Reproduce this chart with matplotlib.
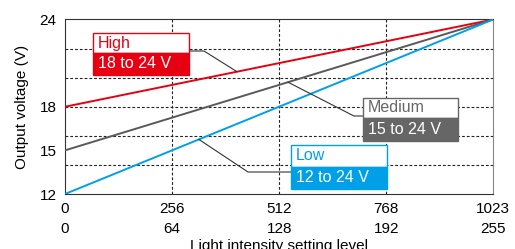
import numpy as np
import matplotlib
matplotlib.use("Agg")
import matplotlib.pyplot as plt
from matplotlib.patches import Rectangle

plt.rcParams['font.family'] = ['Liberation Sans', 'DejaVu Sans']

# data
levels = [0, 1023]
high_v = [18, 24]
medium_v = [15, 24]
low_v = [12, 24]

xticks = [0, 256, 512, 768, 1023]
xtick_labels = ["0\n0", "256\n64", "512\n128", "768\n192", "1023\n255"]
yticks = [12, 15, 18, 24]
hgrid = [14, 16, 18, 20, 22]
vgrid = [256, 512, 768]

red = "#e60012"
gray = "#5a5858"
blue = "#00a0e9"

fig = plt.figure(figsize=(5.15, 2.49), dpi=100)
ax = fig.add_axes([65/515, 55/249, 428/515, 174.5/249])

for y in hgrid:
    ax.axhline(y, color="#222222", lw=0.8, ls=(0, (2.5, 1.8)), zorder=1)
for x in vgrid:
    ax.axvline(x, color="#222222", lw=0.8, ls=(0, (2.5, 1.8)), zorder=1)

ax.plot(levels, high_v, color=red, lw=1.4, zorder=3)
ax.plot(levels, medium_v, color=gray, lw=1.4, zorder=3)
ax.plot(levels, low_v, color=blue, lw=1.4, zorder=3)

ax.set_xlim(0, 1023)
ax.set_ylim(12, 24)
ax.set_xticks(xticks)
ax.set_xticklabels(xtick_labels, linespacing=1.5)
ax.set_yticks(yticks)
ax.tick_params(length=0, labelsize=11, pad=6)
for s in ["left", "bottom", "top"]:
    ax.spines[s].set_color("#333333")
ax.spines["right"].set_color("#888888")
ax.set_ylabel("Output voltage (V)", fontsize=11, labelpad=8)
ax.set_xlabel("Light intensity setting level", fontsize=11, labelpad=2)


def label_box(x0, x1, y0, ysplit, y1, name, rng, color):
    t = ax.transAxes
    ax.add_patch(Rectangle((x0, ysplit), x1 - x0, y1 - ysplit, transform=t,
                           facecolor="white", edgecolor=color, lw=1, zorder=5))
    ax.add_patch(Rectangle((x0, y0), x1 - x0, ysplit - y0, transform=t,
                           facecolor=color, edgecolor=color, lw=1, zorder=5))
    ax.text(x0 + 0.012, (ysplit + y1) / 2, name, transform=t, color=color,
            fontsize=11.5, va="center", ha="left", zorder=6)
    ax.text(x0 + 0.012, (y0 + ysplit) / 2, rng, transform=t, color="white",
            fontsize=11.5, va="center", ha="left", zorder=6)


def leader(bx, by, kx, xl, series):
    # point on the series line
    yl = np.interp(xl, levels, series)
    px, py = ax.transData.transform((xl, yl))
    fx, fy = ax.transAxes.inverted().transform((px, py))
    ax.plot([bx, kx, fx], [by, by, fy], transform=ax.transAxes,
            color="#333333", lw=0.8, zorder=4)


label_box(0.0654, 0.2897, 0.682, 0.808, 0.9226, "High", "18 to 24 V", red)
leader(0.2897, 0.8195, 0.3248, 411, high_v)

label_box(0.696, 0.918, 0.304, 0.436, 0.550, "Medium", "15 to 24 V", "#666666")
leader(0.696, 0.447, 0.675, 533, medium_v)

label_box(0.528, 0.752, 0.029, 0.155, 0.281, "Low", "12 to 24 V", blue)
leader(0.528, 0.126, 0.4276, 320, low_v)

fig.savefig("out.png", dpi=100)
